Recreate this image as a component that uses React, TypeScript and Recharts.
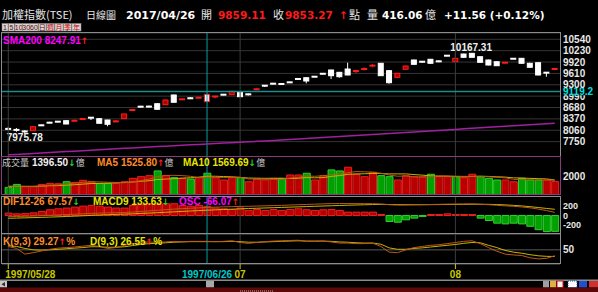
import React from "react";
import {
  ComposedChart,
  Bar,
  Line,
  XAxis,
  YAxis,
  ReferenceLine,
  CartesianGrid,
  Cell,
} from "recharts";

// daily candles
const opens = [
  8120, 8100, 8050, 8048, 8205, 8275, 8300, 8321, 8310, 8355,
  8410, 8376, 8340, 8290, 8376, 8600, 8710, 8712, 8784, 8757,
  9022, 8895, 8940, 8940, 9041, 8975, 9035, 9030, 9103, 9045,
  9165, 9280, 9335, 9328, 9372, 9465, 9493, 9525, 9605, 9703,
  9640, 9730, 9670, 9695, 9815, 9886, 9685, 9504, 9722, 9976,
  9935, 9995, 9945, 10098, 9929, 10139, 10158, 10066, 9976, 9929,
  9895, 10015, 10022, 9886, 9902, 9635, 9720,
];
const highs = [
  8140, 8120, 8060, 8170, 8215, 8290, 8310, 8330, 8345, 8392,
  8420, 8385, 8345, 8335, 8515, 8640, 8725, 8730, 8800, 8895,
  9030, 8925, 8965, 8960, 9050, 8990, 9045, 9130, 9110, 9060,
  9200, 9290, 9350, 9340, 9385, 9480, 9500, 9535, 9615, 9710,
  9650, 9902, 9685, 9775, 9867, 9895, 9695, 9620, 9820, 9985,
  9950, 10005, 9965, 10105, 10167.31, 10145, 10163, 10070, 9985, 9935,
  9915, 10025, 10030, 9900, 9910, 9640, 9760,
];
const lows = [
  8060, 8020, 7975.78, 8040, 8175, 8250, 8278, 8225, 8295, 8345,
  8340, 8245, 8170, 8280, 8370, 8590, 8685, 8680, 8625, 8750,
  8815, 8890, 8910, 8935, 8830, 8930, 9015, 9025, 8970, 9010,
  9160, 9240, 9310, 9300, 9350, 9440, 9340, 9505, 9590, 9458,
  9495, 9560, 9620, 9690, 9777, 9540, 9330, 9480, 9715, 9850,
  9900, 9880, 9915, 10080, 9920, 10045, 10045, 9905, 9830, 9815,
  9880, 9995, 9880, 9760, 9560, 9520, 9700,
];
const closes = [
  8075, 8040, 8005, 8157, 8185, 8258, 8288, 8231, 8330, 8378,
  8395, 8250, 8223, 8315, 8504, 8625, 8695, 8698, 8632, 8885,
  8823, 8912, 8925, 8955, 8839, 8985, 9025, 9122, 8975, 9035,
  9190, 9270, 9325, 9315, 9362, 9452, 9403, 9515, 9595, 9548,
  9520, 9567, 9680, 9766, 9830, 9548, 9357, 9613, 9812, 9858,
  9922, 9886, 9935, 10088, 10022, 10049, 10049, 9913, 9839, 9820,
  9910, 10005, 9886, 9777, 9567, 9625, 9740,
];
const sma200 = [
  7390, 7402, 7415, 7428, 7441, 7453, 7466, 7478, 7491, 7504,
  7516, 7529, 7541, 7554, 7567, 7578, 7590, 7602, 7614, 7626,
  7638, 7650, 7662, 7674, 7686, 7698, 7710, 7722, 7734, 7746,
  7758, 7770, 7782, 7795, 7808, 7821, 7834, 7847, 7860, 7874,
  7888, 7902, 7916, 7930, 7944, 7958, 7972, 7986, 8000, 8014,
  8028, 8042, 8056, 8070, 8084, 8098, 8112, 8126, 8140, 8154,
  8168, 8182, 8196, 8209, 8222, 8235, 8248,
];

// volume (億) and its averages
const volumes = [
  765, 1090, 840, 840, 1090, 1200, 1165, 1385, 1310, 1530,
  1385, 1200, 1200, 1200, 1385, 1750, 1930, 2040, 2550, 2040,
  1820, 1750, 1680, 1820, 2300, 1820, 1570, 1820, 1820, 1385,
  1680, 1570, 1750, 1750, 2110, 2110, 2300, 1570, 2040, 2660,
  2550, 2950, 2190, 1930, 2410, 2040, 1930, 1570, 2040, 1930,
  1930, 2190, 1930, 1930, 1930, 1820, 2190, 1930, 1750, 1570,
  1570, 1385, 1750, 1570, 1570, 1570, 1396.5,
];
const volUp = [
  0, 0, 1, 1, 1, 1, 1, 0, 1, 1,
  1, 0, 0, 1, 1, 1, 1, 1, 0, 1,
  0, 1, 0, 1, 0, 1, 1, 1, 0, 1,
  1, 1, 1, 0, 1, 1, 0, 1, 1, 0,
  0, 1, 1, 1, 1, 0, 0, 1, 1, 1,
  1, 0, 1, 1, 0, 1, 1, 0, 0, 0,
  1, 1, 0, 0, 0, 1, 1,
];
const volMa5 = [
  900, 900, 880, 880, 925, 1012, 1027, 1136, 1230, 1318,
  1355, 1362, 1325, 1303, 1274, 1347, 1493, 1661, 1931, 2062,
  2076, 2040, 1968, 1822, 1874, 1874, 1838, 1866, 1866, 1683,
  1655, 1655, 1641, 1627, 1772, 1858, 2004, 1968, 2026, 2136,
  2224, 2354, 2478, 2456, 2406, 2304, 2100, 1976, 1998, 1902,
  1880, 1932, 2004, 1982, 1982, 1960, 1960, 1960, 1924, 1852,
  1802, 1641, 1605, 1569, 1569, 1569, 1525.8,
];
const volMa10 = [
  880, 880, 880, 880, 900, 950, 960, 1010, 1055, 1121,
  1184, 1195, 1230, 1267, 1296, 1351, 1428, 1493, 1617, 1668,
  1712, 1767, 1815, 1877, 1968, 1975, 1939, 1917, 1844, 1779,
  1765, 1747, 1754, 1747, 1728, 1757, 1830, 1805, 1827, 1954,
  2041, 2179, 2223, 2241, 2271, 2264, 2227, 2227, 2227, 2154,
  2092, 2016, 1990, 1990, 1942, 1920, 1946, 1982, 1953, 1917,
  1881, 1800, 1782, 1746, 1710, 1685, 1569.69,
];

// MACD
const dif = [
  -25, -22, -18, -12, -5, 3, 12, 20, 28, 37,
  45, 52, 57, 60, 65, 75, 88, 100, 112, 125,
  137, 147, 156, 165, 174, 180, 185, 190, 196, 198,
  203, 208, 214, 218, 225, 232, 238, 244, 250, 256,
  258, 258, 256, 255, 255, 248, 232, 224, 226, 230,
  232, 236, 240, 244, 246, 248, 250, 242, 232, 220,
  208, 198, 184, 166, 138, 105, 67.57,
];
const macd = [
  -60, -55, -50, -45, -40, -34, -28, -21, -14, -6,
  2, 10, 17, 24, 30, 36, 44, 52, 61, 70,
  79, 88, 97, 106, 114, 122, 129, 136, 143, 150,
  156, 162, 168, 174, 180, 186, 192, 198, 204, 210,
  215, 221, 226, 231, 236, 238, 237, 235, 234, 233,
  233, 234, 235, 237, 238, 240, 242, 242, 240, 236,
  228, 218, 206, 190, 172, 152, 133.63,
];
const osc = [
  10, 7, 8, 11, 17, 24, 28, 31, 35, 39,
  42, 39, 35, 31, 31, 42, 45, 49, 47, 49,
  49, 42, 39, 42, 38, 31, 28, 25, 31, 21,
  25, 21, 25, 21, 25, 28, 24, 21, 24, 25,
  21, 14, 14, 14, 14, 4, -25, -28, -18, -11,
  -4, 4, 4, 7, 4, 4, 4, -11, -21, -32,
  -35, -32, -35, -45, -59, -67, -66.07,
];

// KD
const kLine = [
  62, 55, 35, 40, 46, 52, 56, 58, 60, 63,
  66, 62, 55, 58, 66, 72, 76, 78, 76, 78,
  80, 79, 80, 80, 80, 79, 80, 82, 76, 73,
  76, 79, 81, 82, 83, 84, 80, 80, 81, 78,
  74, 74, 72, 72, 74, 62, 42, 40, 50, 58,
  62, 66, 68, 72, 76, 80, 82, 72, 58, 45,
  35, 32, 30, 22, 18, 20, 29.27,
];
const dLine = [
  65, 62, 55, 50, 49, 50, 52, 54, 56, 58,
  61, 61, 59, 59, 61, 65, 69, 72, 73, 75,
  77, 78, 79, 79, 79, 79, 79, 80, 79, 77,
  77, 78, 79, 80, 81, 82, 81, 81, 81, 80,
  78, 77, 75, 74, 74, 70, 57, 52, 52, 55,
  57, 60, 63, 66, 69, 73, 76, 75, 66, 58,
  48, 42, 38, 33, 29, 27, 26.55,
];

const priceTicks = [7750, 8060, 8370, 8680, 8990, 9300, 9610, 9920, 10230, 10540];
const volTicks = [2000];
const macdTicks = [200, 0, -200];
const kdTicks = [50];
const dateTickIdx = [0, 24, 28, 54];
const dateTickLabels = ["1997/05/28", "1997/06/26", "07", "08"];
const monthLines = [0, 28, 54];
const cursorIdx = 24;
const cursorPrice = 9119.2;

const rows = opens.map((o, i) => ({
  i,
  o,
  h: highs[i],
  l: lows[i],
  c: closes[i],
  sma: sma200[i],
  v: volumes[i],
  up: volUp[i],
  ma5: volMa5[i],
  ma10: volMa10[i],
  dif: dif[i],
  macd: macd[i],
  osc: osc[i],
  k: kLine[i],
  d: dLine[i],
}));

const hiIdx = highs.indexOf(Math.max(...highs));
const loIdx = lows.indexOf(Math.min(...lows));

const X_DOMAIN = [-0.76, 66.63];
const W = 598;
const M = { top: 0, right: 0, bottom: 0, left: 2 };
const NUM = "'Liberation Sans', Arial, sans-serif";
const BOLDNUM = "'DejaVu Sans', Verdana, sans-serif";
const ARROW = "'DejaVu Sans', sans-serif";
const CJK = "'Noto Sans CJK TC', 'Noto Sans CJK SC', sans-serif";
const RED = "#ff1a1a";
const GREEN = "#20d020";

const tickStyle = { fill: "#e8e8e8", fontSize: 10, fontFamily: NUM, fontWeight: 700 };

function Candle(props: any) {
  const { x, y, width, height, payload, index } = props;
  if (x == null || !payload) return null;
  const { o, h, l, c } = payload;
  const span = h - l || 1;
  const cx = x + width / 2;
  const top = y + ((h - Math.max(o, c)) / span) * height;
  const bottom = y + ((h - Math.min(o, c)) / span) * height;
  const up = c > o;
  const selected = index === cursorIdx;
  const edge = up || selected ? RED : "#ffffff";
  const fill = selected ? "#ffffff" : up ? "#b00000" : "#ffffff";
  const thin = bottom - top < 3;
  return (
    <g>
      <line x1={cx} x2={cx} y1={y} y2={y + height} stroke={edge} strokeWidth={1} />
      {thin ? (
        <rect x={x} y={(top + bottom) / 2 - 1} width={width} height={2} fill={edge} />
      ) : (
        <rect x={x + 0.5} y={top} width={width - 1} height={bottom - top} fill={fill} stroke={edge} strokeWidth={1} />
      )}
      {index === hiIdx && (
        <text x={cx - 5} y={y - 2} fill="#f0f0f0" fontSize={10} fontFamily={NUM} fontWeight={700}>
          {h.toFixed(2)}
        </text>
      )}
      {index === loIdx && (
        <text x={cx - 18} y={y + height + 8} fill="#f0f0f0" fontSize={10} fontFamily={NUM} fontWeight={700}>
          {l.toFixed(2)}
        </text>
      )}
    </g>
  );
}

// price tick; the one sitting under the cursor tag is mostly hidden
function PriceTick(props: any) {
  const { x, y, payload } = props;
  const covered = Math.abs(payload.value - cursorPrice) < 155;
  return (
    <g>
      {covered && (
        <clipPath id="price-cut">
          <rect x={x - 2} y={y - 1} width={40} height={10} />
        </clipPath>
      )}
      <text
        x={x}
        y={y}
        dy="0.355em"
        {...tickStyle}
        clipPath={covered ? "url(#price-cut)" : undefined}
      >
        {payload.value}
      </text>
    </g>
  );
}

function CursorLabel(props: any) {
  const vb = props.viewBox;
  if (!vb) return null;
  const x = vb.x + vb.width;
  return (
    <text x={x + 3} y={vb.y + 3.5} fill="#00e0e0" fontSize={10} fontFamily={NUM} fontWeight={700}>
      {cursorPrice.toFixed(1)}
    </text>
  );
}

function DateTick(props: any) {
  const { x, y, payload } = props;
  const n = dateTickIdx.indexOf(payload.value);
  if (n < 0) return null;
  const isCursor = dateTickIdx[n] === cursorIdx;
  const color = isCursor ? "#00c8c8" : "#c8c800";
  return (
    <g>
      {!isCursor && <line x1={x} x2={x} y1={y} y2={y + 5} stroke="#c8c800" />}
      <text
        x={n === 0 ? x - 3 : x}
        y={y + 14}
        textAnchor={n === 0 ? "start" : "middle"}
        fill={color}
        fontSize={10}
        fontFamily={NUM}
        fontWeight={700}
      >
        {dateTickLabels[n]}
      </text>
    </g>
  );
}

const hiddenX = (
  <XAxis type="number" dataKey="i" domain={X_DOMAIN} hide allowDataOverflow />
);

function rightAxis(
  ticks: number[],
  domain: number[],
  id: string | number = 0,
  tick: any = tickStyle
) {
  return (
    <YAxis
      yAxisId={id}
      orientation="right"
      type="number"
      width={38}
      domain={domain}
      allowDataOverflow
      ticks={ticks}
      interval={0}
      tickLine={false}
      axisLine={false}
      tickSize={0}
      tickMargin={3}
      tick={tick}
    />
  );
}

function vRefs(id: string | number = 0) {
  return [
    ...monthLines.map((m) => (
      <ReferenceLine key={`m${m}`} x={m} yAxisId={id} stroke="#3c3c3c" />
    )),
    <ReferenceLine key="cur" x={cursorIdx} yAxisId={id} stroke="#0a9c9c" />,
  ];
}

export default function App() {
  return (
    <div
      style={{
        position: "fixed",
        left: 0,
        top: 0,
        width: W,
        height: 292,
        background: "#000",
        overflow: "hidden",
      }}
    >
      <div style={{ position: "absolute", left: 0, top: 33 }}>
        <ComposedChart width={W} height={124} data={rows} margin={M}>
          <CartesianGrid vertical={false} stroke="#353535" />
          {hiddenX}
          {rightAxis(priceTicks, [7331, 10712], 0, (p: any) => <PriceTick {...p} />)}
          {vRefs()}
          <ReferenceLine y={cursorPrice} stroke="#138f8f" strokeWidth={1.5} label={<CursorLabel />} />
          <Line dataKey="sma" stroke="#a020a0" strokeWidth={1.5} dot={false} isAnimationActive={false} />
          <Bar
            dataKey={(d: any) => [d.l, d.h]}
            barSize={6}
            shape={(p: any) => <Candle {...p} />}
            isAnimationActive={false}
          />
        </ComposedChart>
      </div>

      <div style={{ position: "absolute", left: 0, top: 157 }}>
        <ComposedChart width={W} height={37.5} data={rows} margin={M}>
          {hiddenX}
          {rightAxis(volTicks, [0, 4054])}
          {vRefs()}
          <Bar dataKey="v" barSize={7} isAnimationActive={false}>
            {rows.map((r) => (
              <Cell
                key={r.i}
                fill={r.up ? "#b80000" : "#00a000"}
                stroke={r.up ? "#e82020" : "#30d030"}
                strokeWidth={1}
              />
            ))}
          </Bar>
          <Line dataKey="ma10" stroke="#c8b400" strokeWidth={1} dot={false} isAnimationActive={false} />
          <Line dataKey="ma5" stroke="#b85818" strokeWidth={1} dot={false} isAnimationActive={false} />
        </ComposedChart>
      </div>

      <div style={{ position: "absolute", left: 0, top: 196.5 }}>
        <ComposedChart width={W} height={36.5} data={rows} margin={M}>
          {hiddenX}
          {rightAxis(macdTicks, [-387, 398], "l", { ...tickStyle, fontSize: 9 })}
          <YAxis yAxisId="o" orientation="right" type="number" domain={[-75, 77]} allowDataOverflow hide />
          {vRefs("l")}
          <Bar dataKey="osc" yAxisId="o" barSize={7} isAnimationActive={false}>
            {rows.map((r) => (
              <Cell
                key={r.i}
                fill={r.osc >= 0 ? "#b80000" : "#00a000"}
                stroke={r.osc >= 0 ? "#e82020" : "#30d030"}
                strokeWidth={1}
              />
            ))}
          </Bar>
          <Line yAxisId="l" dataKey="macd" stroke="#c8b400" strokeWidth={1} dot={false} isAnimationActive={false} />
          <Line yAxisId="l" dataKey="dif" stroke="#b85818" strokeWidth={1} dot={false} isAnimationActive={false} />
        </ComposedChart>
      </div>

      <div style={{ position: "absolute", left: 0, top: 233.5 }}>
        <ComposedChart width={W} height={60} data={rows} margin={M}>
          <CartesianGrid vertical={false} stroke="#5a5a5a" />
          <XAxis
            type="number"
            dataKey="i"
            domain={X_DOMAIN}
            allowDataOverflow
            ticks={dateTickIdx}
            interval={0}
            height={30}
            tickLine={false}
            axisLine={false}
            tickSize={0}
            tickMargin={0}
            tick={(p: any) => <DateTick {...p} />}
          />
          {rightAxis(kdTicks, [0, 106])}
          {vRefs()}
          <Line dataKey="d" stroke="#c8b400" strokeWidth={1} dot={false} isAnimationActive={false} />
          <Line dataKey="k" stroke="#c05818" strokeWidth={1} dot={false} isAnimationActive={false} />
        </ComposedChart>
      </div>

      <svg
        width={W}
        height={292}
        style={{ position: "absolute", left: 0, top: 0, pointerEvents: "none" }}
      >
        {/* title */}
        <g fontFamily={CJK} fontSize={11} fill="#e6e6e6">
          <text x={2} y={19}>加權指數(TSE)</text>
          <text x={86} y={19} fontSize={10}>日線圖</text>
          <text x={201} y={19}>開</text>
          <text x={273} y={19}>收</text>
          <text x={349} y={19}>點</text>
          <text x={367} y={19}>量</text>
          <text x={425} y={19}>億</text>
        </g>
        <g fontFamily={BOLDNUM} fontWeight={700} fontSize={10.5}>
          <text x={126} y={19} fill="#ffffff" fontSize={11}>2017/04/26</text>
          <text x={218} y={19} fill={RED}>9859.11</text>
          <text x={285} y={19} fill={RED}>9853.27</text>
          <text x={339} y={19} fill={RED}>↑</text>
          <text x={382} y={19} fill="#ffffff">416.06</text>
          <text x={444} y={19} fill="#ffffff">+11.56 (+0.12%)</text>
        </g>

        {/* period buttons */}
        {[
          ["1", 2, 6],
          ["5", 8.5, 6],
          ["10", 15, 7.5],
          ["30", 22.5, 7.5],
          ["60", 30, 8],
          ["日", 38.5, 7.5],
          ["週", 46.5, 8],
          ["月", 55, 8],
          ["季", 63.5, 8],
          ["年", 72, 9],
        ].map(([t, bx, bw]: any, n) => (
          <g key={t}>
            <rect x={bx} y={23.5} width={bw} height={7.5} fill="#d6d6d6" stroke="#8a8a8a" strokeWidth={0.5} />
            <text
              x={bx + bw / 2}
              y={30}
              textAnchor="middle"
              fontSize={7}
              fontFamily={n >= 5 ? CJK : NUM}
              fill={n >= 6 ? "#d00000" : "#700000"}
            >
              {t}
            </text>
          </g>
        ))}

        {/* panel frames */}
        <rect x={1.5} y={32.5} width={559} height={124} fill="none" stroke="#8c8c8c" />
        <rect x={1.5} y={196.5} width={559} height={37} fill="none" stroke="#8c8c8c" />
        <rect x={1.5} y={233.5} width={559} height={30} fill="none" stroke="#8c8c8c" />
        <rect x={1.5} y={156.5} width={559} height={38} fill="none" stroke="#8a3a78" />

        {/* indicator captions */}
        <g fontFamily={NUM} fontWeight={700} fontSize={10}>
          <text x={3} y={43.5}>
            <tspan fill="#ff00ff">SMA200 8247.91</tspan>
            <tspan fill={RED} fontFamily={ARROW} fontSize={9}>↑</tspan>
          </text>

          <text x={2} y={165.5} fontFamily={CJK} fontWeight={400} fontSize={9} fill="#c8c8c8">成交量</text>
          <text x={32} y={165.5}>
            <tspan fill="#f0f0f0">1396.50</tspan>
            <tspan fill={GREEN} fontFamily={ARROW} fontSize={9}>↓</tspan>
            <tspan fill="#c8c8c8" fontFamily={CJK} fontWeight={400} fontSize={9}>億</tspan>
          </text>
          <text x={97} y={165.5}>
            <tspan fill="#ff8c28">MA5 1525.80</tspan>
            <tspan fill={RED} fontFamily={ARROW} fontSize={9}>↑</tspan>
            <tspan fill="#c8c8c8" fontFamily={CJK} fontWeight={400} fontSize={9}>億</tspan>
          </text>
          <text x={183} y={165.5}>
            <tspan fill="#e6e600">MA10 1569.69</tspan>
            <tspan fill={GREEN} fontFamily={ARROW} fontSize={9}>↓</tspan>
            <tspan fill="#c8c8c8" fontFamily={CJK} fontWeight={400} fontSize={9}>億</tspan>
          </text>

          <text x={3} y={205}>
            <tspan fill="#ff8c28">DIF12-26 67.57</tspan>
            <tspan fill={GREEN} fontFamily={ARROW} fontSize={9}>↓</tspan>
          </text>
          <text x={93} y={205}>
            <tspan fill="#e6e600">MACD9 133.63</tspan>
            <tspan fill={GREEN} fontFamily={ARROW} fontSize={9}>↓</tspan>
          </text>
          <text x={179} y={205}>
            <tspan fill="#ff00ff">OSC -66.07</tspan>
            <tspan fill={RED} fontFamily={ARROW} fontSize={9}>↑</tspan>
          </text>

          <text x={3} y={244.5}>
            <tspan fill="#ff8c28">K(9,3) 29.27</tspan>
            <tspan fill={RED} fontFamily={ARROW} fontSize={9}>↑</tspan>
            <tspan fill="#ff8c28">%</tspan>
          </text>
          <text x={90} y={244.5}>
            <tspan fill="#e6e600">D(9,3) 26.55</tspan>
            <tspan fill={RED} fontFamily={ARROW} fontSize={9}>↑</tspan>
            <tspan fill="#e6e600">%</tspan>
          </text>
        </g>

        {/* scroll bar */}
        <rect x={0} y={279.5} width={W} height={1.5} fill="#8c8c8c" />
        <rect x={0} y={281} width={7} height={6.5} fill="#c8c8c8" />
        <path d="M1.5 284.2 L5 282 L5 286.4 Z" fill="#303030" />
        <rect x={206} y={281} width={8} height={6.5} fill="#a8a8a8" />
        <rect x={543} y={281} width={6} height={6.5} fill="#a0a0a0" />
        <rect x={550} y={281} width={6} height={6.5} fill="#e0b040" />
        <rect x={557} y={281} width={6} height={6.5} fill="#f0f0f0" stroke="#d02020" strokeWidth={1} />
        <rect x={568} y={281} width={9} height={6.5} fill="#ffffff" stroke="#2050d0" strokeWidth={1} strokeDasharray="1 1" />
        <rect x={579} y={281} width={8} height={6.5} fill="#2050d0" />
        <rect x={589} y={281} width={9} height={6.5} fill="#d03030" />
        <rect x={0} y={287.5} width={W} height={4.5} fill="#5c0808" />
        <line x1={240} x2={273} y1={291} y2={291} stroke="#b0b0b0" strokeDasharray="1 1" />
      </svg>
    </div>
  );
}
